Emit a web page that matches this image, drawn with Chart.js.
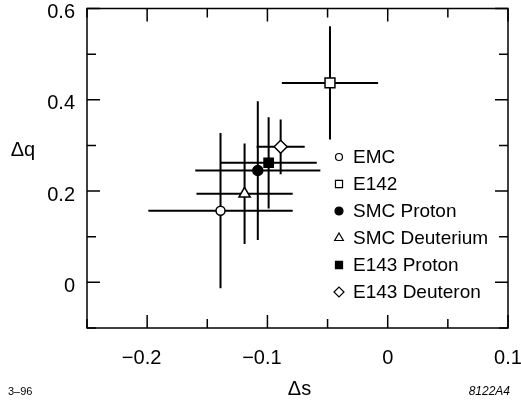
<!DOCTYPE html>
<html>
<head>
<meta charset="utf-8">
<script src="https://cdn.jsdelivr.net/npm/chart.js@4/dist/chart.umd.min.js"></script>
<style>
  html, body { margin: 0; padding: 0; background: #fff; }
  #wrap { width: 521px; height: 404px; }
</style>
</head>
<body>
<div id="wrap"><canvas id="spinChart"></canvas></div>
<script>
// values
const experiments = ['EMC', 'E142', 'SMC Proton', 'SMC Deuterium', 'E143 Proton', 'E143 Deuteron'];
const deltaS = [-0.139, -0.048, -0.108, -0.119, -0.099, -0.089];
const deltaQ = [0.157, 0.437, 0.245, 0.194, 0.262, 0.297];
const errS = [0.06, 0.04, 0.052, 0.04, 0.04, 0.02];
const errQ = [0.17, 0.124, 0.152, 0.11, 0.10, 0.06];
const xTickValues = [-0.2, -0.1, 0, 0.1];
const xTickLabels = ['−0.2', '−0.1', '0', '0.1'];
const yTickValues = [0, 0.2, 0.4, 0.6];
const yTickLabels = ['0', '0.2', '0.4', '0.6'];

// marker styles
const markerStyle = ['circle', 'rect', 'circle', 'triangle', 'rect', 'rectRot'];
const markerSize = [4.5, 7, 5, 6.5, 6.5, 6.5];
const markerFilled = [false, false, true, false, true, false];
const legendSize = [3.5, 5, 4, 5, 5, 5];

const FONT = "'Liberation Sans', Arial, Helvetica, sans-serif";
const ctxEl = document.getElementById('spinChart');

// label for a tick value, or null if the tick is a minor one
const labelFor = (v, values, labels) => {
  const i = values.findIndex(t => Math.abs(t - v) < 1e-6);
  return i < 0 ? null : labels[i];
};

const datasets = experiments.map((name, i) => ({
  label: name,
  data: [{ x: deltaS[i], y: deltaQ[i], ex: errS[i], ey: errQ[i] }],
  pointStyle: markerStyle[i],
  pointRadius: markerSize[i],
  pointHoverRadius: markerSize[i],
  pointBorderWidth: 1.5,
  pointBorderColor: '#000',
  pointBackgroundColor: markerFilled[i] ? '#000' : '#fff'
}));

const decor = {
  id: 'decor',
  beforeDatasetsDraw(chart) {
    const { ctx, scales: { x, y } } = chart;
    ctx.save();
    ctx.strokeStyle = '#000';
    ctx.lineWidth = 2;
    chart.data.datasets.forEach(ds => {
      ds.data.forEach(p => {
        const px = x.getPixelForValue(p.x), py = y.getPixelForValue(p.y);
        ctx.beginPath();
        ctx.moveTo(x.getPixelForValue(p.x - p.ex), py);
        ctx.lineTo(x.getPixelForValue(p.x + p.ex), py);
        ctx.moveTo(px, y.getPixelForValue(p.y - p.ey));
        ctx.lineTo(px, y.getPixelForValue(p.y + p.ey));
        ctx.stroke();
      });
    });
    ctx.restore();
  },
  afterDraw(chart) {
    const { ctx, chartArea: a, scales: { x, y } } = chart;
    ctx.save();
    ctx.strokeStyle = '#000';
    ctx.lineWidth = 1.5;
    ctx.strokeRect(a.left, a.top, a.right - a.left, a.bottom - a.top);

    // inward ticks on all four sides
    ctx.beginPath();
    x.ticks.forEach(t => {
      const px = x.getPixelForValue(t.value);
      const len = labelFor(t.value, xTickValues, xTickLabels) ? 13 : 9;
      ctx.moveTo(px, a.bottom); ctx.lineTo(px, a.bottom - len);
      ctx.moveTo(px, a.top); ctx.lineTo(px, a.top + len);
    });
    y.ticks.forEach(t => {
      const py = y.getPixelForValue(t.value);
      const len = labelFor(t.value, yTickValues, yTickLabels) ? 13 : 9;
      ctx.moveTo(a.left, py); ctx.lineTo(a.left + len, py);
      ctx.moveTo(a.right, py); ctx.lineTo(a.right - len, py);
    });
    ctx.stroke();

    // legend inside the frame
    ctx.font = '19px ' + FONT;
    ctx.textBaseline = 'middle';
    ctx.textAlign = 'left';
    chart.data.datasets.forEach((ds, i) => {
      const ly = 157 + i * 27;
      ctx.fillStyle = markerFilled[i] ? '#000' : '#fff';
      ctx.strokeStyle = '#000';
      ctx.lineWidth = 1.2;
      Chart.helpers.drawPoint(ctx, { pointStyle: markerStyle[i], radius: legendSize[i], rotation: 0, borderWidth: 1.2 }, 339, ly);
      ctx.fillStyle = '#000';
      ctx.fillText(ds.label, 353, ly + 1);
    });

    // axis titles and corner notes
    ctx.font = '20px ' + FONT;
    ctx.textAlign = 'center';
    ctx.fillText('Δq', 23, 150);
    ctx.fillText('Δs', (a.left + a.right) / 2 + 2, 389);
    ctx.font = '11px ' + FONT;
    ctx.textAlign = 'left';
    ctx.fillText('3–96', 8, 392);
    ctx.font = 'italic 12px ' + FONT;
    ctx.textAlign = 'right';
    ctx.fillText('8122A4', 510, 392);
    ctx.restore();
  }
};

new Chart(ctxEl, {
  type: 'scatter',
  data: { datasets: datasets },
  plugins: [decor],
  options: {
    responsive: true,
    maintainAspectRatio: false,
    animation: false,
    layout: { padding: { top: 7, right: 13, left: 0, bottom: 0 } },
    plugins: { legend: { display: false }, tooltip: { enabled: false } },
    scales: {
      x: {
        type: 'linear',
        min: -0.25, max: 0.1,
        grid: { display: false, drawTicks: false },
        border: { display: false },
        afterFit: s => { s.height = 76; s.paddingLeft = 0; s.paddingRight = 0; },
        afterBuildTicks: s => {
          s.ticks = [];
          for (let k = -5; k <= 2; k++) s.ticks.push({ value: k * 0.05 });
        },
        ticks: {
          padding: 18,
          color: '#000',
          font: { family: FONT, size: 20 },
          maxRotation: 0,
          autoSkip: false,
          // the minus sign hangs left of the number, as in the original
          callback: v => {
            const l = labelFor(v, xTickValues, xTickLabels);
            return l ? (v < 0 ? l + '\u2007' : l) : '';
          }
        }
      },
      y: {
        type: 'linear',
        min: -0.1, max: 0.6,
        grid: { display: false, drawTicks: false },
        border: { display: false },
        afterFit: s => { s.width = 87; s.paddingTop = 0; s.paddingBottom = 0; },
        afterBuildTicks: s => {
          s.ticks = [];
          for (let k = -1; k <= 6; k++) s.ticks.push({ value: k * 0.1 });
        },
        ticks: {
          padding: 12,
          labelOffset: 4,
          color: '#000',
          font: { family: FONT, size: 20 },
          autoSkip: false,
          callback: v => labelFor(v, yTickValues, yTickLabels) || ''
        }
      }
    }
  }
});
</script>
</body>
</html>
